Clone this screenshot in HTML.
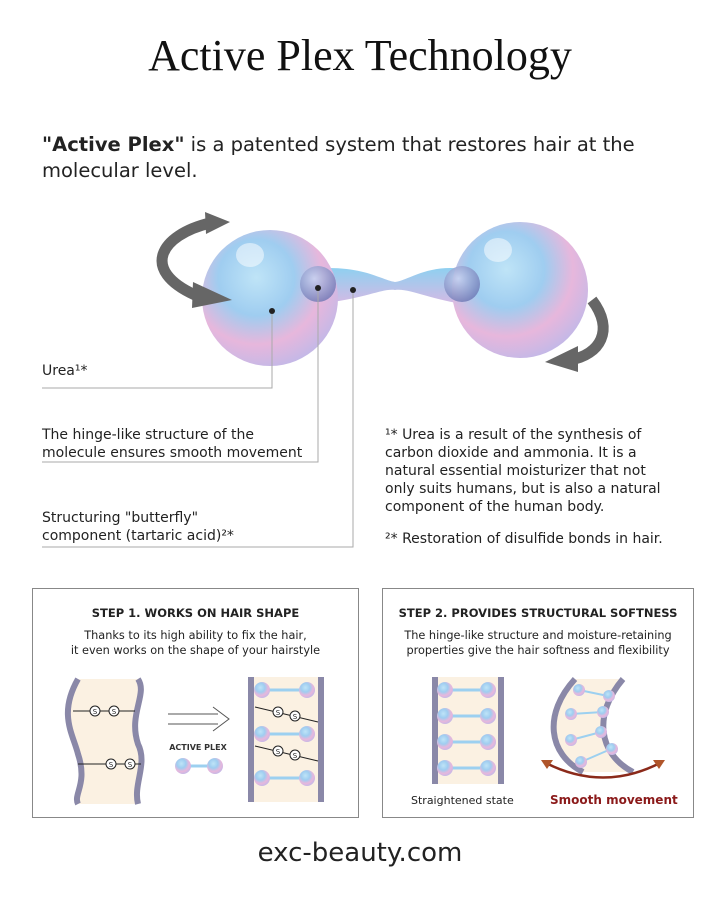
<!DOCTYPE html>
<html><head><meta charset="utf-8"><style>
body{margin:0;background:#fff;width:720px;height:900px;position:relative;overflow:hidden;font-family:"DejaVu Sans","Liberation Sans",sans-serif;color:#222}
.a{position:absolute}
h1{position:absolute;top:30px;left:0;width:720px;text-align:center;margin:0;font:400 44px "Liberation Serif",serif;color:#111}
.p{left:42px;top:132px;font-size:19.5px;line-height:26px;width:620px}
.l{font-size:14px;line-height:18px}
.box{border:1px solid #888;background:#fff}
.bt{font-size:11.5px;font-weight:bold;text-align:center;width:100%}
.bs{font-size:11.3px;text-align:center;width:100%;line-height:15px}
</style></head><body>
<h1>Active Plex Technology</h1>
<div class="a p"><b>"Active Plex"</b> is a patented system that restores hair at the molecular level.</div>
<svg class="a" style="left:0;top:0" width="720" height="580">
<defs>
<radialGradient id="g" cx="40%" cy="35%" r="70%"><stop offset="0" stop-color="#bfe4f7"/><stop offset=".4" stop-color="#9fcdf0"/><stop offset=".7" stop-color="#e7b7dc"/><stop offset="1" stop-color="#c0b8e8"/></radialGradient>
<radialGradient id="s" cx="40%" cy="35%" r="70%"><stop offset="0" stop-color="#c8d4f2"/><stop offset="1" stop-color="#6872b0"/></radialGradient>
<linearGradient id="b" x1="0" y1="0" x2="0" y2="1"><stop offset="0" stop-color="#8fd0f0"/><stop offset="1" stop-color="#d7b9e4"/></linearGradient>
</defs>
<path d="M300 270 C360 262 380 280 395 282 C410 280 430 262 470 270 L470 305 C430 300 410 288 395 290 C380 288 360 302 300 305Z" fill="url(#b)"/>
<circle cx="270" cy="298" r="68" fill="url(#g)"/>
<circle cx="520" cy="290" r="68" fill="url(#g)"/>
<circle cx="318" cy="284" r="18" fill="url(#s)" opacity=".8"/>
<circle cx="462" cy="284" r="18" fill="url(#s)" opacity=".8"/>
<ellipse cx="250" cy="255" rx="14" ry="12" fill="#fff" opacity=".5"/>
<ellipse cx="498" cy="250" rx="14" ry="12" fill="#fff" opacity=".5"/>
<path d="M210 223 C160 235 140 270 195 295" stroke="#666" stroke-width="11" fill="none"/>
<polygon points="193,282 232,300 192,308" fill="#666"/>
<polygon points="205,212 230,222 206,234" fill="#666"/>
<path d="M592 300 C615 330 600 355 570 360" stroke="#666" stroke-width="11" fill="none"/>
<polygon points="578,346 545,362 578,372" fill="#666"/>
<g stroke="#aaa" fill="none" stroke-width="1"><path d="M42 388H272V312"/><path d="M42 462H318V288"/><path d="M42 547H353V290"/></g>
<g fill="#222"><circle cx="272" cy="311" r="3"/><circle cx="318" cy="288" r="3"/><circle cx="353" cy="290" r="3"/></g>
</svg>
<div class="a l" style="left:42px;top:362px">Urea¹*</div>
<div class="a l" style="left:42px;top:426px">The hinge-like structure of the<br>molecule ensures smooth movement</div>
<div class="a l" style="left:42px;top:509px">Structuring "butterfly"<br>component (tartaric acid)²*</div>
<div class="a l" style="left:385px;top:426px">¹* Urea is a result of the synthesis of<br>carbon dioxide and ammonia. It is a<br>natural essential moisturizer that not<br>only suits humans, but is also a natural<br>component of the human body.</div>
<div class="a l" style="left:385px;top:530px">²* Restoration of disulfide bonds in hair.</div>

<div class="a box" style="left:32px;top:588px;width:325px;height:228px">
<div class="a bt" style="top:17px">STEP 1. WORKS ON HAIR SHAPE</div>
<div class="a bs" style="top:39px">Thanks to its high ability to fix the hair,<br>it even works on the shape of your hairstyle</div>
<svg class="a" style="left:0;top:85px" width="325" height="140">
<path d="M45 5 C25 40 40 60 45 80 C55 110 40 120 45 130 L105 130 C100 110 115 90 105 70 C95 40 115 20 105 5Z" fill="#fbf1e2"/>
<path d="M45 5 C25 40 40 60 45 80 C55 110 40 120 45 130" stroke="#8a88a8" stroke-width="6" fill="none"/>
<path d="M105 5 C115 20 95 40 105 70 C115 90 100 110 105 130" stroke="#8a88a8" stroke-width="6" fill="none"/>
<g stroke="#222" fill="#fff"><line x1="40" y1="37" x2="102" y2="37"/><line x1="45" y1="90" x2="108" y2="90"/>
<circle cx="62" cy="37" r="5"/><circle cx="81" cy="37" r="5"/><circle cx="78" cy="90" r="5"/><circle cx="97" cy="90" r="5"/>
<circle cx="245" cy="38" r="5"/></g>
<g font-size="7" text-anchor="middle" fill="#222" font-family="DejaVu Sans"><text x="62" y="40">S</text><text x="81" y="40">S</text><text x="78" y="93">S</text><text x="97" y="93">S</text></g>
<path d="M135 40H185M135 50H185M180 33L196 45L180 57" stroke="#555" fill="none"/>
<text x="165" y="76" font-size="8" font-weight="bold" fill="#333" text-anchor="middle" font-family="DejaVu Sans">ACTIVE PLEX</text>
<line x1="152" y1="92" x2="180" y2="92" stroke="#9cd0f0" stroke-width="3"/><circle cx="150" cy="92" r="8" fill="url(#g)"/><circle cx="182" cy="92" r="8" fill="url(#g)"/>
<rect x="218" y="3" width="70" height="125" fill="#fbf1e2"/>
<path d="M218 3V128M288 3V128" stroke="#8a88a8" stroke-width="6"/>
<g stroke="#222" fill="#fff"><line x1="222" y1="33" x2="285" y2="48"/><line x1="222" y1="72" x2="285" y2="87"/><circle cx="245" cy="38" r="5"/><circle cx="262" cy="42" r="5"/><circle cx="245" cy="77" r="5"/><circle cx="262" cy="81" r="5"/></g>
<g font-size="7" text-anchor="middle" fill="#222" font-family="DejaVu Sans"><text x="245" y="41">S</text><text x="262" y="45">S</text><text x="245" y="80">S</text><text x="262" y="84">S</text></g>
<g><line x1="230" y1="16" x2="272" y2="16" stroke="#9cd0f0" stroke-width="3"/><circle cx="229" cy="16" r="8" fill="url(#g)"/><circle cx="274" cy="16" r="8" fill="url(#g)"/>
<line x1="230" y1="60" x2="272" y2="60" stroke="#9cd0f0" stroke-width="3"/><circle cx="229" cy="60" r="8" fill="url(#g)"/><circle cx="274" cy="60" r="8" fill="url(#g)"/>
<line x1="230" y1="104" x2="272" y2="104" stroke="#9cd0f0" stroke-width="3"/><circle cx="229" cy="104" r="8" fill="url(#g)"/><circle cx="274" cy="104" r="8" fill="url(#g)"/></g>
</svg></div>

<div class="a box" style="left:382px;top:588px;width:310px;height:228px">
<div class="a bt" style="top:17px">STEP 2. PROVIDES STRUCTURAL SOFTNESS</div>
<div class="a bs" style="top:39px">The hinge-like structure and moisture-retaining<br>properties give the hair softness and flexibility</div>
<svg class="a" style="left:0;top:85px" width="310" height="140">
<rect x="52" y="3" width="66" height="107" fill="#fbf1e2"/>
<path d="M52 3V110M118 3V110" stroke="#8a88a8" stroke-width="6"/>
<g><line x1="62" y1="16" x2="104" y2="16" stroke="#9cd0f0" stroke-width="3"/><circle cx="62" cy="16" r="8" fill="url(#g)"/><circle cx="105" cy="16" r="8" fill="url(#g)"/>
<line x1="62" y1="42" x2="104" y2="42" stroke="#9cd0f0" stroke-width="3"/><circle cx="62" cy="42" r="8" fill="url(#g)"/><circle cx="105" cy="42" r="8" fill="url(#g)"/>
<line x1="62" y1="68" x2="104" y2="68" stroke="#9cd0f0" stroke-width="3"/><circle cx="62" cy="68" r="8" fill="url(#g)"/><circle cx="105" cy="68" r="8" fill="url(#g)"/>
<line x1="62" y1="94" x2="104" y2="94" stroke="#9cd0f0" stroke-width="3"/><circle cx="62" cy="94" r="8" fill="url(#g)"/><circle cx="105" cy="94" r="8" fill="url(#g)"/></g>
<path d="M192 5 C160 40 165 80 200 98 L250 98 C215 80 210 40 240 5Z" fill="#fbf1e2"/>
<path d="M192 5 C160 40 165 80 200 98" stroke="#8a88a8" stroke-width="6" fill="none"/>
<path d="M240 5 C210 40 215 80 250 98" stroke="#8a88a8" stroke-width="6" fill="none"/>
<g stroke="#9cd0f0" stroke-width="2"><line x1="196" y1="16" x2="225" y2="22"/><line x1="188" y1="40" x2="220" y2="38"/><line x1="188" y1="66" x2="218" y2="58"/><line x1="198" y1="88" x2="228" y2="75"/></g>
<g fill="url(#g)"><circle cx="196" cy="16" r="6"/><circle cx="226" cy="22" r="6"/><circle cx="188" cy="40" r="6"/><circle cx="220" cy="38" r="6"/><circle cx="188" cy="66" r="6"/><circle cx="218" cy="58" r="6"/><circle cx="198" cy="88" r="6"/><circle cx="229" cy="75" r="6"/></g>
<path d="M163 89 Q220 118 277 89" stroke="#8b2a1a" stroke-width="2.5" fill="none"/>
<polygon points="158,86 170,86 164,95" fill="#b0552a"/><polygon points="282,86 270,86 276,95" fill="#b0552a"/>
</svg>
<div class="a" style="left:28px;top:205px;font-size:11px">Straightened state</div>
<div class="a" style="left:167px;top:204px;font-size:12px;font-weight:bold;color:#8b1a1a">Smooth movement</div>
</div>
<div class="a" style="left:0;top:838px;width:720px;text-align:center;font-size:26px;color:#222">exc-beauty.com</div>
</body></html>
